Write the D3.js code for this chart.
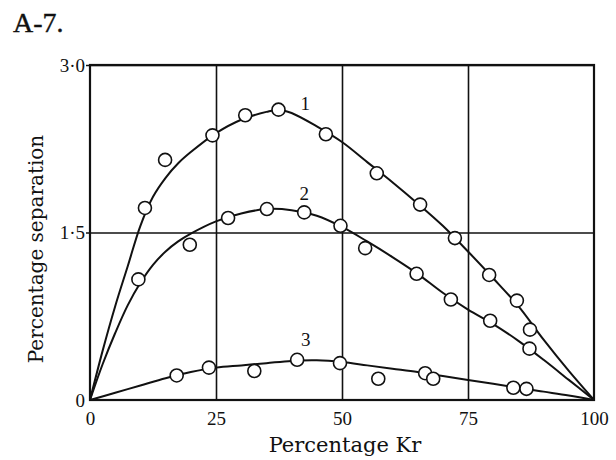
<!DOCTYPE html>
<html>
<head>
<meta charset="utf-8">
<script src="https://cdn.jsdelivr.net/npm/d3@7"></script>
<style>
  body { margin: 0; background: #fff; }
  text { fill: #111; }
</style>
</head>
<body>
<div id="chart"></div>
<script>

// measured points (percentage Kr, percentage separation)
var kr1  = [10.9, 14.9, 24.3, 30.8, 37.4, 46.8, 56.9, 65.5, 72.4, 79.2, 84.7, 87.3];
var sep1 = [1.72, 2.15, 2.37, 2.55, 2.60, 2.38, 2.03, 1.75, 1.45, 1.12, 0.89, 0.63];

var kr2  = [9.6, 19.8, 27.4, 35.1, 42.5, 49.7, 54.6, 64.8, 71.6, 79.4, 87.2];
var sep2 = [1.08, 1.39, 1.63, 1.71, 1.68, 1.56, 1.36, 1.13, 0.90, 0.71, 0.46];

var kr3  = [17.2, 23.6, 32.6, 41.1, 49.6, 57.2, 66.5, 68.1, 84.0, 86.6];
var sep3 = [0.22, 0.29, 0.26, 0.36, 0.33, 0.19, 0.24, 0.19, 0.11, 0.10];

// drawn curves
var fitKr1  = [0, 2.5, 5, 7.5, 10, 12.5, 15, 17.5, 20, 25, 30, 35, 37.5, 40, 45, 50, 55, 60, 65, 70, 75, 80, 85, 90, 95, 100];
var fitSep1 = [0, 0.44, 0.84, 1.20, 1.56, 1.82, 1.99, 2.12, 2.22, 2.39, 2.51, 2.58, 2.60, 2.57, 2.45, 2.31, 2.13, 1.95, 1.76, 1.56, 1.33, 1.09, 0.84, 0.54, 0.26, 0];

var fitKr2  = [0, 2.5, 5, 7.5, 10, 12.5, 15, 17.5, 20, 25, 30, 35, 40, 45, 50, 55, 60, 65, 70, 75, 80, 85, 90, 95, 100];
var fitSep2 = [0, 0.32, 0.60, 0.85, 1.05, 1.21, 1.33, 1.42, 1.49, 1.60, 1.67, 1.71, 1.70, 1.65, 1.55, 1.42, 1.28, 1.13, 0.96, 0.81, 0.68, 0.53, 0.36, 0.18, 0];

var fitKr3  = [0, 5, 10, 15, 20, 25, 30, 35, 40, 45, 50, 55, 60, 65, 70, 75, 80, 85, 90, 95, 100];
var fitSep3 = [0, 0.065, 0.13, 0.195, 0.25, 0.29, 0.31, 0.33, 0.35, 0.355, 0.34, 0.31, 0.28, 0.25, 0.215, 0.18, 0.145, 0.11, 0.075, 0.04, 0];

// curve numbers and where they sit
var curveNames = ["1", "2", "3"];
var nameKr  = [42.7, 42.5, 42.8];
var nameSep = [2.66, 1.85, 0.54];

var xTicks = [0, 25, 50, 75, 100];
var yTicks = [0, 1.5, 3];
var yTickLabels = ["0", "1\u00b75", "3\u00b70"];

var figTitle = "A-7.";
var xTitle = "Percentage Kr";
var yTitle = "Percentage separation";

function zip(a, b) {
    return a.map(function (v, i) { return { x: v, y: b[i] }; });
}

var margin = { top: 65, right: 22, bottom: 60, left: 90 };
var W = 616, H = 460;
var width = W - margin.left - margin.right;
var height = H - margin.top - margin.bottom;

var svg = d3.select("#chart").append("svg")
    .attr("width", W)
    .attr("height", H);

var g = svg.append("g")
    .attr("transform", "translate(" + margin.left + "," + margin.top + ")");

var x = d3.scaleLinear().domain([0, 100]).range([0, width]);
var y = d3.scaleLinear().domain([0, 3]).range([height, 0]);

var ink = "#111";
var serif = "'Liberation Serif', 'Times New Roman', serif";
var wide = "'DejaVu Serif', serif";

// title
svg.append("text")
    .attr("x", 13)
    .attr("y", 32)
    .style("font-family", serif)
    .style("font-size", "28px")
    .style("stroke", ink)
    .style("stroke-width", 0.4)
    .text(figTitle);

// vertical grid
var xGrid = g.append("g")
    .attr("transform", "translate(0," + height + ")")
    .call(d3.axisBottom(x).tickValues([25, 50, 75]).tickSize(-height).tickFormat(""));
xGrid.select(".domain").remove();
xGrid.selectAll("line").attr("stroke", ink).attr("stroke-width", 1.6);

// horizontal grid, with short stubs out to the left
var yGrid = g.append("g")
    .attr("transform", "translate(-4,0)")
    .call(d3.axisLeft(y).tickValues([1.5, 3]).tickSize(-(width + 4)).tickFormat(""));
yGrid.select(".domain").remove();
yGrid.selectAll("line").attr("stroke", ink).attr("stroke-width", 1.6);

// frame
g.append("rect")
    .attr("width", width)
    .attr("height", height)
    .attr("fill", "none")
    .attr("stroke", ink)
    .attr("stroke-width", 2.2);

// axes labels
var xAxis = g.append("g")
    .attr("transform", "translate(0," + height + ")")
    .call(d3.axisBottom(x).tickValues(xTicks).tickSize(0).tickPadding(12));
xAxis.select(".domain").remove();
xAxis.selectAll("text")
    .style("font-family", serif)
    .style("font-size", "19px")
    .attr("fill", ink);

var yAxis = g.append("g")
    .call(d3.axisLeft(y).tickValues(yTicks).tickSize(0).tickPadding(5)
        .tickFormat(function (d, i) { return yTickLabels[i]; }));
yAxis.select(".domain").remove();
yAxis.selectAll("text")
    .style("font-family", serif)
    .style("font-size", "19px")
    .attr("fill", ink);

svg.append("text")
    .attr("x", margin.left + width / 2 + 3)
    .attr("y", 452)
    .attr("text-anchor", "middle")
    .style("font-family", wide)
    .style("font-size", "21px")
    .text(xTitle);

svg.append("text")
    .attr("transform", "translate(43,249) rotate(-90)")
    .attr("text-anchor", "middle")
    .style("font-family", wide)
    .style("font-size", "20px")
    .text(yTitle);

// fitted curves
var line = d3.line()
    .x(function (d) { return x(d.x); })
    .y(function (d) { return y(d.y); })
    .curve(d3.curveCatmullRom.alpha(0.5));

var fits = [zip(fitKr1, fitSep1), zip(fitKr2, fitSep2), zip(fitKr3, fitSep3)];

g.selectAll(".fit")
    .data(fits)
    .enter().append("path")
    .attr("class", "fit")
    .attr("d", line)
    .attr("fill", "none")
    .attr("stroke", ink)
    .attr("stroke-width", 2);

// data points
var points = zip(kr1, sep1).concat(zip(kr2, sep2), zip(kr3, sep3));

g.selectAll(".pt")
    .data(points)
    .enter().append("circle")
    .attr("class", "pt")
    .attr("cx", function (d) { return x(d.x); })
    .attr("cy", function (d) { return y(d.y); })
    .attr("r", 6.5)
    .attr("fill", "#fff")
    .attr("stroke", ink)
    .attr("stroke-width", 1.6);

// curve numbers
g.selectAll(".name")
    .data(curveNames)
    .enter().append("text")
    .attr("class", "name")
    .attr("x", function (d, i) { return x(nameKr[i]); })
    .attr("y", function (d, i) { return y(nameSep[i]); })
    .attr("dy", "0.35em")
    .attr("text-anchor", "middle")
    .style("font-family", serif)
    .style("font-size", "19px")
    .text(function (d) { return d; });

</script>
</body>
</html>
